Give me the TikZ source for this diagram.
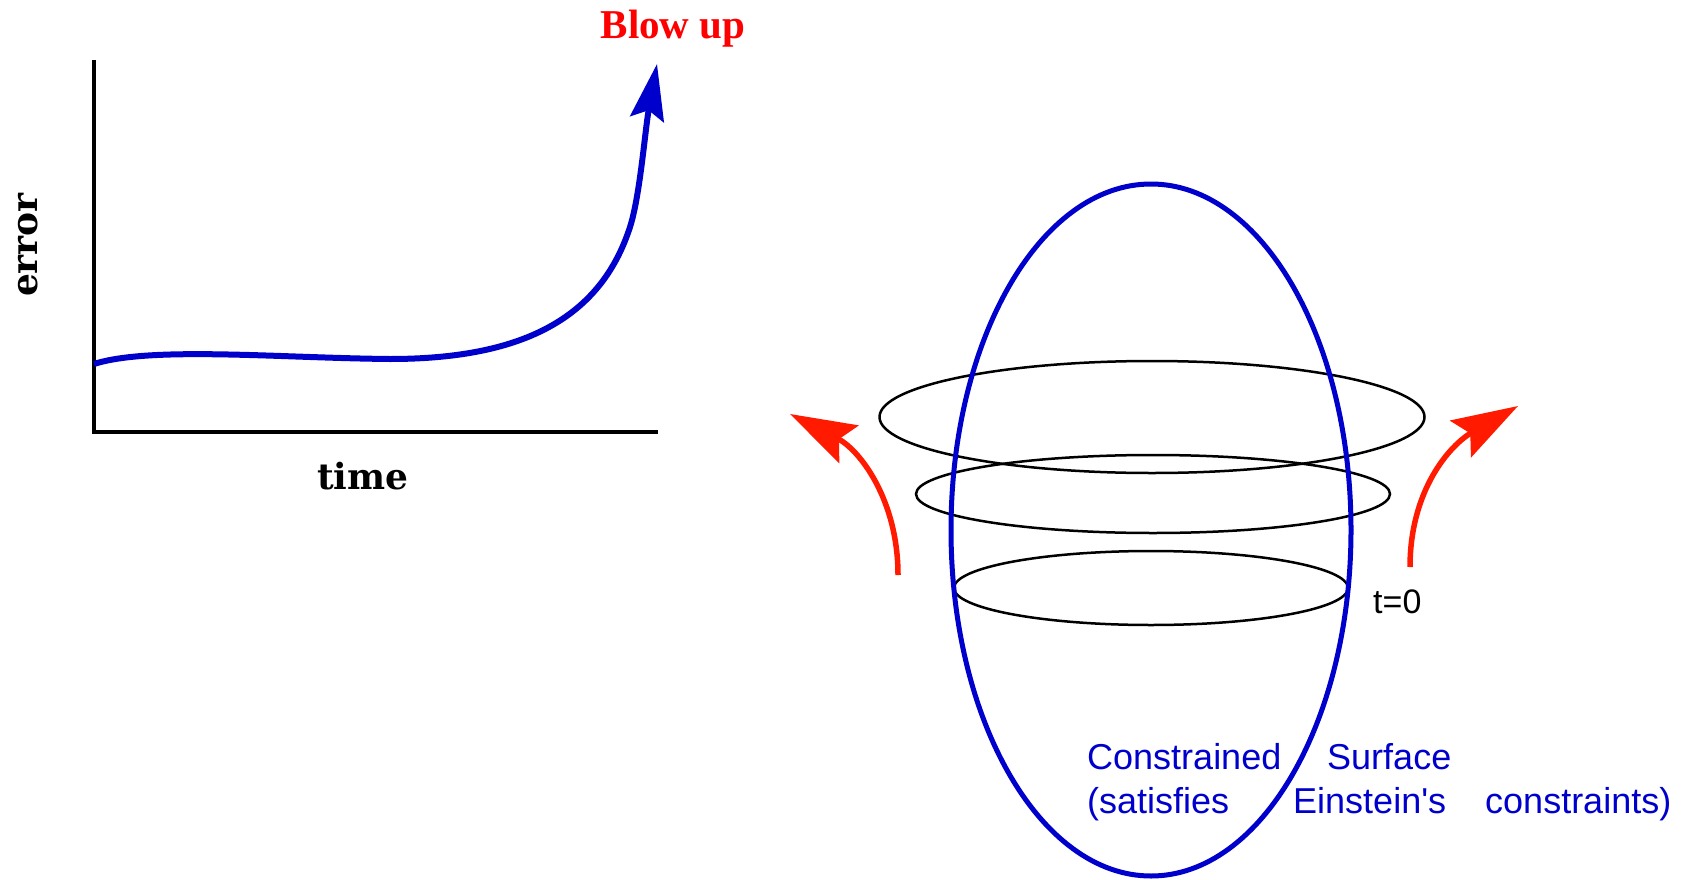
\documentclass[tikz,border=0pt]{standalone}
\usepackage{fontspec}
\newfontfamily\slabfont{DejaVu Serif}
\newfontfamily\blowfont{Liberation Serif}
\newfontfamily\labelsans{Liberation Sans}
\usetikzlibrary{arrows.meta}
\definecolor{myblue}{RGB}{0,0,204}
\definecolor{myred}{RGB}{255,26,0}
\tikzset{
  axisline/.style={line width=4pt, black},
  errcurve/.style={line width=6pt, myblue, -{Stealth[length=56pt,width=34pt,inset=9pt]}},
  redarrow/.style={line width=5.5pt, myred, -{Stealth[length=66pt,width=42pt,inset=11pt]}},
  slice/.style={line width=2.5pt, black},
  surface/.style={line width=5pt, myblue},
  axislabel/.style={font=\slabfont\bfseries\fontsize{36}{40}\selectfont, inner sep=0pt},
  bluetext/.style={font=\labelsans\fontsize{36}{40}\selectfont, text=myblue, inner sep=0pt, anchor=base west},
}
\begin{document}
\begin{tikzpicture}[x=1pt,y=-1pt]
\useasboundingbox (0,0) rectangle (1699,880);
% left plot
\coordinate (origin) at (94,432);
\coordinate (ytop) at (94,60);
\coordinate (xend) at (658,432);
\draw[axisline] (ytop) -- (origin) -- (xend);
\coordinate (cstart) at (94,364);
\coordinate (ctip) at (657,64);
\draw[errcurve] (cstart) .. controls (150,346) and (280,358) .. (390,359)
  .. controls (520,359) and (600,320) .. (630,227)
  .. controls (640,196) and (645,130) .. (ctip);
\node[axislabel, rotate=90] (err) at (28,245) {error};
\node[axislabel, anchor=base] (time) at (363,489) {time};
\node[font=\blowfont\bfseries\fontsize{41}{44}\selectfont, text=red, inner sep=0pt, anchor=base] (blow) at (673,39) {Blow up};
% right diagram
\draw[slice] (1152,417) ellipse [x radius=272.5, y radius=56];
\draw[slice] (1153,494) ellipse [x radius=237, y radius=39];
\draw[slice] (1151,588) ellipse [x radius=197, y radius=37];
\draw[surface] (1151,530) ellipse [x radius=200, y radius=346];
\node[font=\labelsans\fontsize{34}{38}\selectfont, inner sep=0pt, anchor=base west] (t0) at (1373,613) {t=0};
\coordinate (la) at (898,575);
\coordinate (lb) at (790,414);
\draw[redarrow] (la) .. controls (898,500) and (860,450) .. (lb);
\coordinate (ra) at (1410,567);
\coordinate (rb) at (1518,406);
\draw[redarrow] (ra) .. controls (1410,490) and (1450,445) .. (rb);
\node[bluetext] (c1) at (1087,769) {Constrained};
\node[bluetext] (c2) at (1327,769) {Surface};
\node[bluetext] (c3) at (1087,813) {(satisfies};
\node[bluetext] (c4) at (1293,813) {Einstein's};
\node[bluetext] (c5) at (1485,813) {constraints)};
\end{tikzpicture}
\end{document}
